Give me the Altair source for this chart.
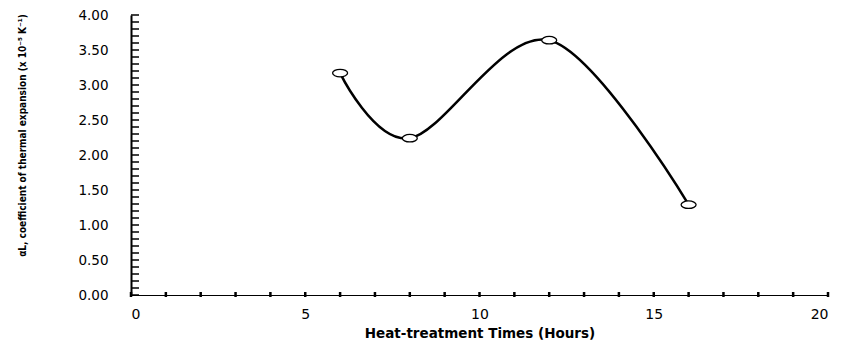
import altair as alt
import pandas as pd

# Data
hours = [6, 8, 12, 16]
alpha = [3.17, 2.24, 3.64, 1.29]

x_major = [0, 5, 10, 15, 20]
x_minor = list(range(0, 21))
y_major = [0.0, 0.5, 1.0, 1.5, 2.0, 2.5, 3.0, 3.5, 4.0]
y_minor = [round(0.1 * i, 1) for i in range(41)]

df = pd.DataFrame({"hours": hours, "alpha": alpha})
xt = pd.DataFrame({"t": x_minor})
yt = pd.DataFrame({"t": y_minor})

W, H = 697, 280
LABEL_FONT = "DejaVu Sans"

x_scale = alt.Scale(domain=[0, 20], nice=False, zero=False)
y_scale = alt.Scale(domain=[0, 4], nice=False, zero=False)

x_axis = alt.Axis(
    values=x_major, format="d", ticks=False, tickSize=0, grid=False,
    domainColor="black", domainWidth=1.2, labelOverlap=False,
    labelFont=LABEL_FONT, labelFontSize=14, labelColor="black", labelPadding=12,
    title="Heat-treatment Times (Hours)", titleFont=LABEL_FONT, titleFontSize=13.5,
    titleFontWeight="bold", titleColor="black", titleBaseline="middle", titleY=38,
)
y_axis = alt.Axis(
    values=y_major, format=".2f", ticks=False, tickSize=0, grid=False,
    domainColor="black", domainWidth=2, labelOverlap=False,
    labelFont=LABEL_FONT, labelFontSize=13.5, labelColor="black", labelPadding=23,
    title="αL, coefficient of thermal expansion (x 10⁻⁵ K⁻¹)",
    titleFont="DejaVu Sans Condensed, Liberation Sans, sans-serif", titleFontSize=10,
    titleFontWeight="bold",
    titleColor="black", titleAngle=-90, titleAlign="center", titleBaseline="middle",
    titleX=-109, titleY=120,
)

line = alt.Chart(df).mark_line(interpolate="cardinal", color="black", strokeWidth=2.5).encode(
    x=alt.X("hours:Q", scale=x_scale, axis=x_axis),
    y=alt.Y("alpha:Q", scale=y_scale, axis=y_axis),
)

ellipse = "M-1,0 A1,0.5 0 1,1 1,0 A1,0.5 0 1,1 -1,0 Z"
points = alt.Chart(df).mark_point(
    shape=ellipse, size=225, filled=True, fill="white", stroke="black",
    strokeWidth=1.3, opacity=1,
).encode(
    x=alt.X("hours:Q", scale=x_scale, axis=x_axis),
    y=alt.Y("alpha:Q", scale=y_scale, axis=y_axis),
)

xticks = alt.Chart(xt).mark_rule(color="black", strokeWidth=2.5).encode(
    x=alt.X("t:Q", scale=x_scale, axis=x_axis),
    y=alt.value(H - 3),
    y2=alt.value(H + 2),
)
yticks = alt.Chart(yt).mark_rule(color="black", strokeWidth=1.5).encode(
    y=alt.Y("t:Q", scale=y_scale, axis=y_axis),
    x=alt.value(0),
    x2=alt.value(8),
)

chart = alt.layer(line, points, xticks, yticks).properties(
    width=W, height=H,
    autosize=alt.AutoSizeParams(type="none"),
    padding={"left": 123, "top": 7, "right": 8, "bottom": 45},
).configure(background="white").configure_view(stroke="transparent", strokeWidth=0)

chart.save("out.html", embed_options={"renderer": "svg", "actions": False})
